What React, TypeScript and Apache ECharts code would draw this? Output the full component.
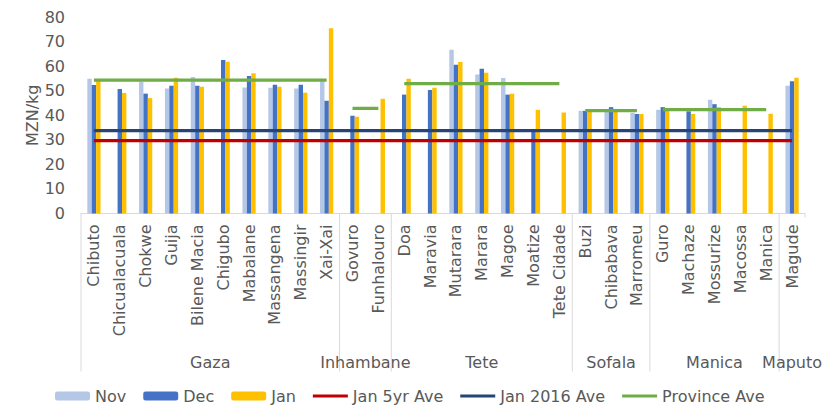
import React, { useEffect, useRef } from "react";
import * as echarts from "echarts";

const categories = [
  "Chibuto", "Chicualacuala", "Chokwe", "Guija", "Bilene Macia", "Chigubo", "Mabalane", "Massangena", "Massingir", "Xai-Xai",
  "Govuro", "Funhalouro",
  "Doa", "Maravia", "Mutarara", "Marara", "Magoe", "Moatize", "Tete Cidade",
  "Buzi", "Chibabava", "Marromeu",
  "Guro", "Machaze", "Mossurize", "Macossa", "Manica",
  "Magude",
];

const provinces = ["Gaza", "Inhambane", "Tete", "Sofala", "Manica", "Maputo"];
const provinceSizes = [10, 2, 7, 3, 5, 1];
const provinceAve: (number | null)[] = [54.3, 42.8, 52.9, 41.9, 42.3, null];

const nov: (number | null)[] = [
  54.9, null, 53.6, 50.9, 55.6, null, 51.3, 51.2, 50.9, 53.8,
  null, null,
  null, null, 66.7, 56.6, 55.2, null, null,
  41.8, 41.8, 41.0,
  42.2, null, 46.3, null, null,
  52.0,
];
const dec: (number | null)[] = [
  52.3, 50.7, 48.8, 52.0, 52.0, 62.5, 56.0, 52.4, 52.4, 45.9,
  39.8, null,
  48.4, 50.3, 60.6, 58.9, 48.4, 33.3, null,
  41.8, 43.3, 40.5,
  43.3, 41.6, 44.5, null, null,
  53.8,
];
const jan: (number | null)[] = [
  54.0, 49.1, 47.0, 55.3, 51.6, 61.8, 57.1, 51.6, 49.2, 75.4,
  39.4, 46.7,
  54.9, 51.2, 61.7, 57.3, 48.8, 42.2, 41.1,
  41.5, 41.8, 40.5,
  41.9, 40.5, 43.3, 43.9, 40.6,
  55.3,
];
const jan5yrAve = 29.7;
const jan2016Ave = 33.7;

const TEXT = "#595959";
const FONT = "DejaVu Sans";
const LINE_ICON = "path://M0,0 L38,0 L38,3 L0,3 Z";

export default function App() {
  const ref = useRef<HTMLDivElement>(null);
  useEffect(() => {
    if (!ref.current) return;
    document.body.style.margin = "0";
    const chart = echarts.init(ref.current, undefined, { renderer: "svg" });

    const provinceSeries: any[] = [];
    let start = 0;
    provinces.forEach((p, i) => {
      const size = provinceSizes[i];
      const v = provinceAve[i];
      const data = categories.map((_, j) => (j >= start && j < start + size && v != null ? v : null));
      provinceSeries.push({
        name: "Province Ave",
        type: "line",
        data,
        symbol: "none",
        connectNulls: false,
        lineStyle: { color: "#70AD47", width: 3.3 },
        itemStyle: { color: "#70AD47" },
        z: 5,
      });
      start += size;
    });

    const barCommon = { type: "bar", barWidth: 4.4, barGap: "0%" };

    chart.setOption({
      animation: false,
      textStyle: { fontFamily: FONT },
      grid: { left: 81, right: 33, top: 17, bottom: 192.5, containLabel: false },
      legend: {
        left: 50,
        top: 383,
        itemWidth: 35,
        itemHeight: 9,
        itemGap: 17,
        textStyle: { fontSize: 16, color: TEXT, fontFamily: FONT },
        data: [
          "Nov",
          "Dec",
          "Jan",
          { name: "Jan 5yr Ave", icon: LINE_ICON },
          { name: "Jan 2016 Ave", icon: LINE_ICON },
          { name: "Province Ave", icon: LINE_ICON },
        ],
      },
      xAxis: {
        type: "category",
        data: categories,
        axisLine: { lineStyle: { color: "#D9D9D9", width: 1 } },
        axisTick: { show: false },
        axisLabel: { rotate: 90, fontSize: 16, color: TEXT, margin: 11, interval: 0, fontFamily: FONT },
      },
      yAxis: {
        type: "value",
        min: 0,
        max: 80,
        interval: 10,
        name: "MZN/kg",
        nameLocation: "middle",
        nameGap: 41,
        nameMoveOverlap: false,
        nameTextStyle: { fontSize: 16, color: TEXT, fontFamily: FONT },
        axisLine: { show: false },
        axisTick: { show: false },
        splitLine: { show: false },
        axisLabel: { fontSize: 16, color: TEXT, margin: 16, fontFamily: FONT },
      },
      series: [
        { ...barCommon, name: "Nov", data: nov, itemStyle: { color: "#B4C7E7" } },
        { ...barCommon, name: "Dec", data: dec, itemStyle: { color: "#4472C4" } },
        { ...barCommon, name: "Jan", data: jan, itemStyle: { color: "#FFC000" } },
        {
          name: "Jan 5yr Ave",
          type: "line",
          data: categories.map(() => jan5yrAve),
          symbol: "none",
          lineStyle: { color: "#C00000", width: 3.3 },
          itemStyle: { color: "#C00000" },
          z: 4,
        },
        {
          name: "Jan 2016 Ave",
          type: "line",
          data: categories.map(() => jan2016Ave),
          symbol: "none",
          lineStyle: { color: "#264478", width: 3.3 },
          itemStyle: { color: "#264478" },
          z: 4,
        },
        ...provinceSeries,
      ],
    });

    const c0 = chart.convertToPixel({ xAxisIndex: 0 }, 0) as number;
    const c1 = chart.convertToPixel({ xAxisIndex: 0 }, 1) as number;
    const step = c1 - c0;
    const base = chart.convertToPixel({ yAxisIndex: 0 }, 0) as number;
    const left = c0 - step / 2;
    const graphics: any[] = [];
    let idx = 0;
    provinces.forEach((p, i) => {
      const x0 = left + idx * step;
      const x1 = left + (idx + provinceSizes[i]) * step;
      graphics.push({
        type: "line",
        shape: { x1: x0, y1: base, x2: x0, y2: base + 158 },
        style: { stroke: "#D9D9D9", lineWidth: 1 },
        silent: true,
      });
      graphics.push({
        type: "text",
        x: (x0 + x1) / 2,
        y: base + 148.5,
        style: {
          text: p,
          fill: TEXT,
          font: `16px "${FONT}"`,
          align: "center",
          verticalAlign: "middle",
        },
        silent: true,
      });
      idx += provinceSizes[i];
    });
    const xr = left + idx * step;
    graphics.push({
      type: "line",
      shape: { x1: xr, y1: base, x2: xr, y2: base + 4 },
      style: { stroke: "#D9D9D9", lineWidth: 1 },
      silent: true,
    });
    chart.setOption({ graphic: graphics });

    return () => chart.dispose();
  }, []);
  return <div ref={ref} style={{ width: 838, height: 406 }} />;
}
